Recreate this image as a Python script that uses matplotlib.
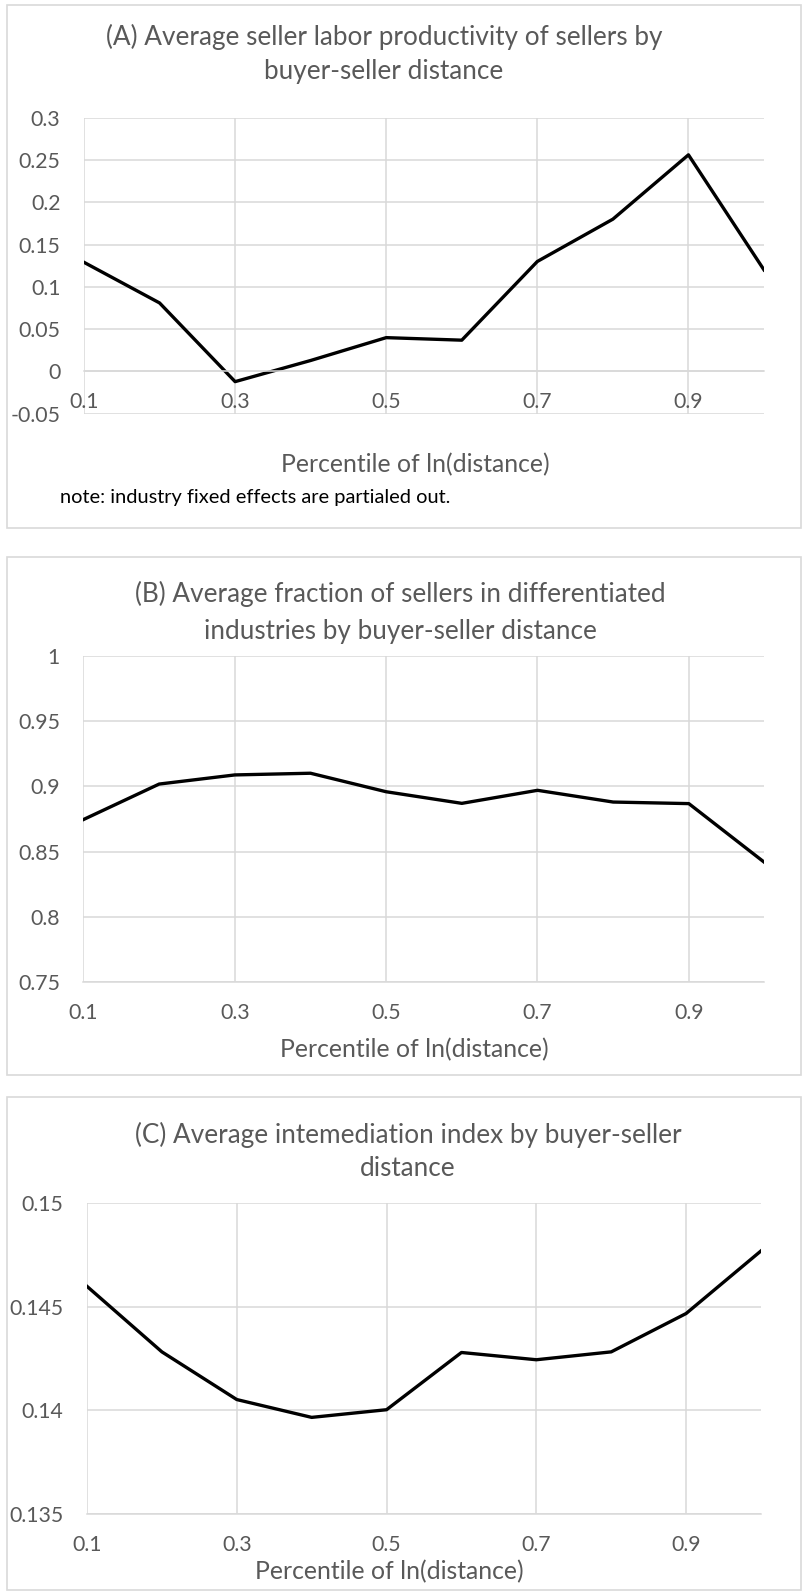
import numpy as np
import matplotlib
matplotlib.use("Agg")
import matplotlib.pyplot as plt
from matplotlib.patches import Rectangle
from matplotlib.ticker import FuncFormatter, MultipleLocator

# data
pct = [0.1, 0.2, 0.3, 0.4, 0.5, 0.6, 0.7, 0.8, 0.9, 1.0]
productivity = [0.129, 0.081, -0.012, 0.013, 0.040, 0.037, 0.130, 0.180, 0.256, 0.120]
frac_diff = [0.8746, 0.9018, 0.9088, 0.9101, 0.8959, 0.8870, 0.8970, 0.8880, 0.8868, 0.8417]
intermed = [0.14598, 0.14282, 0.14052, 0.13966, 0.14003, 0.14279, 0.14244, 0.14282, 0.14467, 0.14769]
xtick_vals = [0.1, 0.3, 0.5, 0.7, 0.9]

plt.rcParams['font.family'] = ['Lato', 'DejaVu Sans']
plt.rcParams['axes.unicode_minus'] = False

W, H = 803, 1592
grid_col = '#D9D9D9'
txt_col = '#595959'
title_fs = 18.8
label_fs = 17.8
tick_fs = 15.3

fig = plt.figure(figsize=(W / 100, H / 100), dpi=100)


def add_box(top, bottom):
    fig.patches.append(Rectangle((7 / W, 1 - bottom / H), (801 - 7) / W, (bottom - top) / H,
                                 transform=fig.transFigure, fill=False,
                                 edgecolor=grid_col, linewidth=1.2))


def make_axes(l, t, r, b, y, ylo, yhi, step, zero_axis=False):
    ax = fig.add_axes([l / W, 1 - b / H, (r - l) / W, (b - t) / H])
    ax.plot(pct, y, color='black', linewidth=2.4)
    ax.set_xlim(0.1, 1.0)
    ax.set_ylim(ylo, yhi)
    ax.set_xticks(xtick_vals)
    ax.set_xticklabels([f"{v:g}" for v in xtick_vals])
    ax.yaxis.set_major_locator(MultipleLocator(step))
    ax.yaxis.set_major_formatter(FuncFormatter(lambda v, p: f"{round(v, 4):g}"))
    ax.grid(True, color=grid_col, linewidth=1.1)
    ax.set_axisbelow(True)
    for s in ['top', 'right', 'left']:
        ax.spines[s].set_visible(False)
    ax.spines['bottom'].set_color(grid_col)
    ax.spines['bottom'].set_linewidth(1.1)
    if zero_axis:
        ax.spines['bottom'].set_position(('data', 0))
    ax.tick_params(axis='both', length=0, labelsize=tick_fs, colors=txt_col)
    ax.tick_params(axis='y', pad=17)
    ax.tick_params(axis='x', pad=15)
    return ax


# (A)
add_box(5, 528)
make_axes(84, 117.6, 764, 413.8, productivity, -0.05, 0.3, 0.05, zero_axis=True)
fig.text(384 / W, 1 - 37 / H, "(A) Average seller labor productivity of sellers by",
         ha='center', va='center', fontsize=title_fs, color=txt_col)
fig.text(384 / W, 1 - 72 / H, "buyer-seller distance",
         ha='center', va='center', fontsize=title_fs, color=txt_col)
fig.text(415 / W, 1 - 465 / H, "Percentile of ln(distance)",
         ha='center', va='center', fontsize=label_fs, color=txt_col)
fig.text(60 / W, 1 - 497 / H, "note: industry fixed effects are partialed out.",
         ha='left', va='center', fontsize=14.4, color='black')

# (B)
add_box(557, 1075)
make_axes(83.5, 656, 764.5, 982, frac_diff, 0.75, 1.0, 0.05)
fig.text(400 / W, 1 - 594 / H, "(B) Average fraction of sellers in differentiated",
         ha='center', va='center', fontsize=title_fs, color=txt_col)
fig.text(400 / W, 1 - 631 / H, "industries by buyer-seller distance",
         ha='center', va='center', fontsize=title_fs, color=txt_col)
fig.text(414 / W, 1 - 1050 / H, "Percentile of ln(distance)",
         ha='center', va='center', fontsize=label_fs, color=txt_col)

# (C)
add_box(1097, 1590)
make_axes(87, 1203, 761, 1514, intermed, 0.135, 0.15, 0.005)
fig.text(408 / W, 1 - 1135 / H, "(C) Average intemediation index by buyer-seller",
         ha='center', va='center', fontsize=title_fs, color=txt_col)
fig.text(408 / W, 1 - 1169 / H, "distance",
         ha='center', va='center', fontsize=title_fs, color=txt_col)
fig.text(389 / W, 1 - 1572 / H, "Percentile of ln(distance)",
         ha='center', va='center', fontsize=label_fs, color=txt_col)

fig.savefig("out.png", dpi=100)
